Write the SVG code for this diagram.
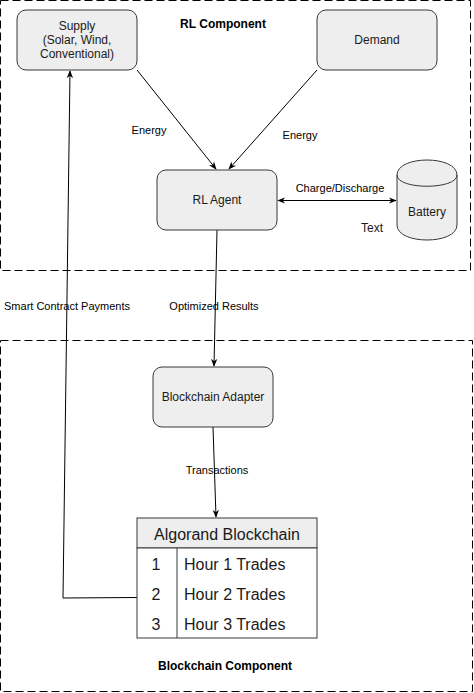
<svg xmlns="http://www.w3.org/2000/svg" width="474" height="693" viewBox="0 0 474 693">
<style>
.box{fill:#eeeeee;stroke:#36393d;stroke-width:1}
.cont{fill:none;stroke:#000;stroke-width:1;stroke-dasharray:8 4}
.t{font-family:"Liberation Sans",Arial,sans-serif;font-size:12px;fill:#1a1a1a;text-anchor:middle;dominant-baseline:central}
.l{font-family:"Liberation Sans",Arial,sans-serif;font-size:11px;fill:#000;text-anchor:middle;dominant-baseline:central}
.b{font-family:"Liberation Sans",Arial,sans-serif;font-size:12px;font-weight:bold;fill:#000;text-anchor:middle;dominant-baseline:central}
.tb{font-family:"Liberation Sans",Arial,sans-serif;font-size:16px;fill:#1a1a1a;dominant-baseline:central}
.c{fill:none;stroke:#000;stroke-width:1}
</style>
<defs>
<marker id="ah" viewBox="0 0 10 10" refX="9" refY="5" markerWidth="8" markerHeight="8" markerUnits="userSpaceOnUse" orient="auto-start-reverse">
<path d="M0,1 L10,5 L0,9 L3,5 Z" fill="#000"/>
</marker>
</defs>
<g id="rl-component">
<rect class="cont" x="0.5" y="0.5" width="470" height="270"/>
<text class="b" x="223" y="24">RL Component</text>
</g>
<g id="blockchain-component">
<rect class="cont" x="0.5" y="340.5" width="472" height="351"/>
<text class="b" x="225" y="666">Blockchain Component</text>
</g>
<g id="connectors">
<line class="c" x1="137" y1="70" x2="216" y2="169" marker-end="url(#ah)"/>
<line class="c" x1="317" y1="70" x2="229" y2="169" marker-end="url(#ah)"/>
<line class="c" x1="278" y1="200.5" x2="396" y2="200.5" marker-start="url(#ah)" marker-end="url(#ah)"/>
<line class="c" x1="217" y1="230" x2="214" y2="366" marker-end="url(#ah)"/>
<line class="c" x1="213" y1="427" x2="216" y2="517" marker-end="url(#ah)"/>
<polyline class="c" points="137,597.5 63,598 70,71" marker-end="url(#ah)"/>
<text class="l" x="149" y="130">Energy</text>
<text class="l" x="300" y="135">Energy</text>
<text class="l" x="340" y="188">Charge/Discharge</text>
<text class="l" x="214" y="306">Optimized Results</text>
<text class="l" x="67" y="306">Smart Contract Payments</text>
<text class="l" x="217" y="470">Transactions</text>
</g>
<g id="supply">
<rect class="box" x="17" y="10" width="120" height="60" rx="9"/>
<text class="t" x="77" y="26">Supply</text>
<text class="t" x="77" y="40">(Solar, Wind,</text>
<text class="t" x="77" y="54">Conventional)</text>
</g>
<g id="demand">
<rect class="box" x="317" y="10" width="120" height="60" rx="9"/>
<text class="t" x="377" y="40">Demand</text>
</g>
<g id="rl-agent">
<rect class="box" x="157" y="170" width="120" height="60" rx="9"/>
<text class="t" x="217" y="200">RL Agent</text>
</g>
<g id="battery">
<path class="box" d="M397,175 C397,155 457,155 457,175 L457,225 C457,245 397,245 397,225 Z"/>
<path class="box" style="fill:none" d="M397,175 C397,190 457,190 457,175"/>
<text class="t" x="427" y="212">Battery</text>
<text class="t" x="372" y="228">Text</text>
</g>
<g id="blockchain-adapter">
<rect class="box" x="153" y="367" width="120" height="60" rx="9"/>
<text class="t" x="213" y="397">Blockchain Adapter</text>
</g>
<g id="algorand-blockchain">
<rect x="137" y="518" width="180" height="30" fill="#eeeeee" stroke="#36393d"/>
<rect x="137" y="548" width="180" height="90" fill="#ffffff" stroke="#36393d"/>
<line x1="177" y1="548" x2="177" y2="638" stroke="#36393d"/>
<text class="tb" x="227" y="534" text-anchor="middle">Algorand Blockchain</text>
<text class="tb" x="156" y="564" text-anchor="middle">1</text>
<text class="tb" x="184" y="564">Hour 1 Trades</text>
<text class="tb" x="156" y="594" text-anchor="middle">2</text>
<text class="tb" x="184" y="594">Hour 2 Trades</text>
<text class="tb" x="156" y="624" text-anchor="middle">3</text>
<text class="tb" x="184" y="624">Hour 3 Trades</text>
</g>
</svg>
